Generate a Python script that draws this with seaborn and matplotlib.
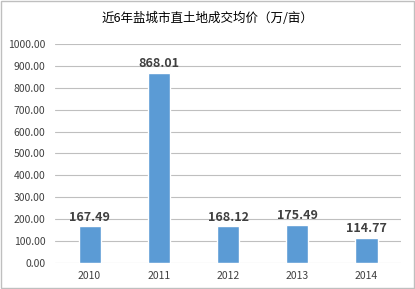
import matplotlib
matplotlib.use("Agg")
import matplotlib.pyplot as plt
import seaborn as sns
import pandas as pd
from matplotlib.patches import Rectangle

years = ["2010", "2011", "2012", "2013", "2014"]
prices = [167.49, 868.01, 168.12, 175.49, 114.77]
title = "近6年盐城市直土地成交均价（万/亩）"
yticks = [0, 100, 200, 300, 400, 500, 600, 700, 800, 900, 1000]

sns.set_theme(style="white")
plt.rcParams['font.family'] = ['Noto Sans CJK SC', 'DejaVu Sans']

df = pd.DataFrame({"year": years, "price": prices})

fig = plt.figure(figsize=(4.15, 2.89), dpi=100)
ax = fig.add_axes([0.1325, 0.09, 0.834, 0.758])
sns.barplot(data=df, x="year", y="price", color="#5B9BD5", saturation=1,
            width=0.32, ax=ax, zorder=3)

ax.set_ylim(0, 1000)
ax.set_yticks(yticks)
ax.set_yticklabels([f"{v:.2f}" for v in yticks], fontsize=7.5, color="#404040")
ax.tick_params(axis="x", labelsize=7.5, colors="#404040", length=0, pad=6)
ax.tick_params(axis="y", length=0, pad=7)
ax.grid(axis="y", color="#BFBFBF", linewidth=0.8, zorder=0)
ax.set_xlabel("")
ax.set_ylabel("")
for s in ax.spines.values():
    s.set_visible(False)

for i, v in enumerate(prices):
    ax.text(i, v + 12, f"{v:.2f}", ha="center", va="bottom",
            fontsize=9, fontweight="bold", color="#404040")

fig.text(0.5, 0.937, title, ha="center", va="center", fontsize=9, color="#000000")
fig.patches.append(Rectangle((0.003, 0.003), 0.994, 0.994, transform=fig.transFigure,
                             fill=False, edgecolor="#BFBFBF", linewidth=1))

fig.savefig("out.png", dpi=100)
